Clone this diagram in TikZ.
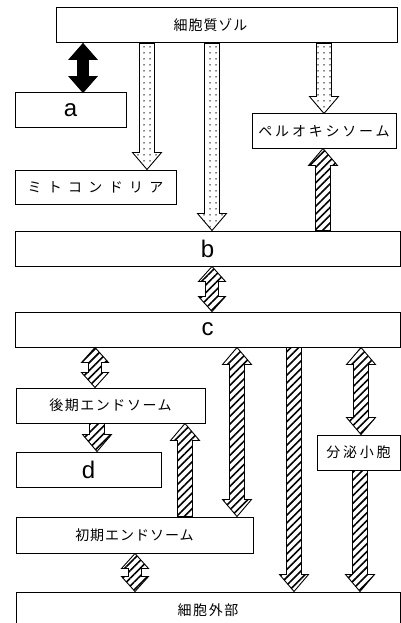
\documentclass[tikz,border=0pt]{standalone}
\usepackage{fontspec}
\setmainfont{Liberation Sans}
\newfontfamily\jp{Noto Sans CJK JP}
\usetikzlibrary{patterns.meta,calc}

\tikzset{
  box/.style={draw, line width=1pt, rectangle, inner sep=0pt, font=\jp\fontsize{14}{14}\selectfont},
  letterbox/.style={box, font=\fontsize{24}{24}\selectfont},
  dotarrow/.style={draw, line width=0.9pt, pattern={Dots[radius=0.75pt,distance=6pt]}},
  hatcharrow/.style={draw, line width=0.9pt, pattern={Lines[angle=45,distance=5.5pt,line width=1.6pt]}},
  solidarrow/.style={draw, line width=0.8pt, fill=black},
}
\def\sw{7.5pt}\def\hw{14.5pt}\def\hl{17pt}

% #1 style, #2 x, #3 upper node, #4 lower node
\newcommand\arrdown[4]{\draw[#1] let \p1=(#3.south), \p2=(#4.north) in
  ({#2pt-\sw},\y1) -- ({#2pt-\sw},{\y2+\hl}) -- ({#2pt-\hw},{\y2+\hl}) -- (#2pt,\y2)
  -- ({#2pt+\hw},{\y2+\hl}) -- ({#2pt+\sw},{\y2+\hl}) -- ({#2pt+\sw},\y1) -- cycle;}
\newcommand\arrup[4]{\draw[#1] let \p1=(#3.south), \p2=(#4.north) in
  ({#2pt-\sw},\y2) -- ({#2pt-\sw},{\y1-\hl}) -- ({#2pt-\hw},{\y1-\hl}) -- (#2pt,\y1)
  -- ({#2pt+\hw},{\y1-\hl}) -- ({#2pt+\sw},{\y1-\hl}) -- ({#2pt+\sw},\y2) -- cycle;}
\newcommand\arrboth[4]{\draw[#1] let \p1=(#3.south), \p2=(#4.north) in
  ({#2pt-\sw},{\y1-\hl}) -- ({#2pt-\hw},{\y1-\hl}) -- (#2pt,\y1) -- ({#2pt+\hw},{\y1-\hl})
  -- ({#2pt+\sw},{\y1-\hl}) -- ({#2pt+\sw},{\y2+\hl}) -- ({#2pt+\hw},{\y2+\hl}) -- (#2pt,\y2)
  -- ({#2pt-\hw},{\y2+\hl}) -- ({#2pt-\sw},{\y2+\hl}) -- cycle;}

\begin{document}
\begin{tikzpicture}[x=1pt,y=-1pt]
\useasboundingbox (0,0) rectangle (401,623);

\node[box, minimum width=341pt, minimum height=35pt,
  label={[font=\jp\fontsize{14}{14}\selectfont, xshift=-16pt]center:{\addfontfeatures{LetterSpace=7}細胞質ゾル}}]
  (cyt) at (226.5,25.5) {};
\node[letterbox, minimum width=111pt, minimum height=34pt] (a) at (70.5,110) {a};
\node[box, minimum width=161pt, minimum height=34pt] (mito) at (95.5,187) {\addfontfeatures{LetterSpace=45}ミトコンドリア};
\node[box, minimum width=144pt, minimum height=34pt] (perox) at (324,131) {\addfontfeatures{LetterSpace=20}ペルオキシソーム};
\node[letterbox, minimum width=385pt, minimum height=35pt] (b) at (207.5,248.5) {b};
\node[letterbox, minimum width=385pt, minimum height=35pt] (c) at (207.5,329.5) {c};
\node[box, minimum width=189pt, minimum height=35pt] (late) at (110.5,405.5) {\addfontfeatures{LetterSpace=11}後期エンドソーム};
\node[letterbox, minimum width=145pt, minimum height=35pt] (d) at (88.5,469.5) {d};
\node[box, minimum width=237pt, minimum height=36pt] (early) at (134.5,535) {\addfontfeatures{LetterSpace=7}初期エンドソーム};
\node[box, minimum width=83pt, minimum height=35pt] (sec) at (358.5,452.5) {\addfontfeatures{LetterSpace=20}分泌小胞};
\node[box, minimum width=384pt, minimum height=62pt,
  label={[font=\jp\fontsize{14}{14}\selectfont, yshift=13pt]center:{\addfontfeatures{LetterSpace=11}細胞外部}}]
  (ext) at (208,623) {};

\begingroup
\def\sw{5.5pt}\def\hw{14pt}\def\hl{16pt}
\arrboth{solidarrow}{83}{cyt}{a}
\endgroup

\arrdown{dotarrow}{147}{cyt}{mito}
\arrdown{dotarrow}{212}{cyt}{b}
\arrdown{dotarrow}{324}{cyt}{perox}
\arrup{hatcharrow}{323}{perox}{b}

\begingroup
\def\sw{6.5pt}\def\hw{13.5pt}\def\hl{15pt}
\arrboth{hatcharrow}{212}{b}{c}
\arrboth{hatcharrow}{95}{c}{late}
\arrboth{hatcharrow}{135}{early}{ext}
\endgroup

\arrdown{hatcharrow}{97}{late}{d}
\arrboth{hatcharrow}{237}{c}{early}
\arrup{hatcharrow}{185}{late}{early}
\arrdown{hatcharrow}{294}{c}{ext}
\arrboth{hatcharrow}{361}{c}{sec}
\arrdown{hatcharrow}{360}{sec}{ext}
\end{tikzpicture}
\end{document}
